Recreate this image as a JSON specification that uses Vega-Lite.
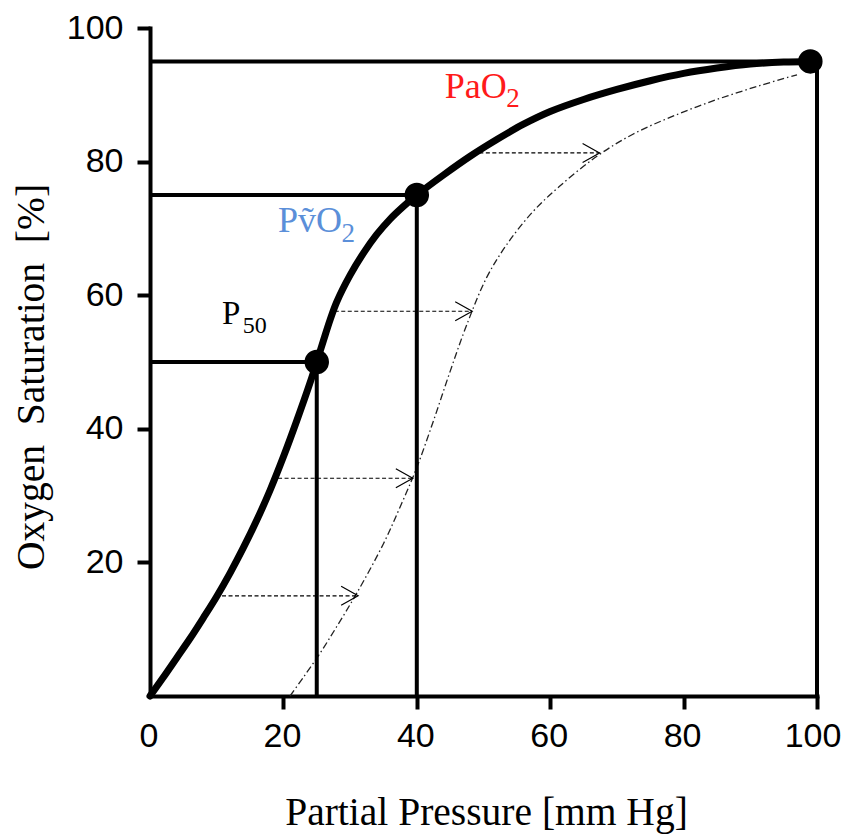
{
  "$schema": "https://vega.github.io/schema/vega-lite/v6.json",
  "autosize": {"type": "none"},
  "width": 667,
  "height": 668,
  "padding": {"left": 150, "top": 28, "right": 27, "bottom": 138},
  "background": "white",
  "config": {
    "view": {"stroke": null},
    "axis": {
      "grid": false,
      "domainColor": "black",
      "domainWidth": 4,
      "domainCap": "square",
      "tickColor": "black",
      "tickWidth": 4,
      "tickSize": 13,
      "labelFont": "Liberation Sans",
      "labelFontSize": 34,
      "labelColor": "black",
      "titleFont": "Liberation Serif",
      "titleFontSize": 39.5,
      "titleFontWeight": "normal",
      "titleColor": "black",
      "labelFlush": false,
      "labelOverlap": false
    }
  },
  "datasets": {
    "curve": [
      {"x": 0, "y": 0}, {"x": 2, "y": 2.8}, {"x": 4, "y": 5.7}, {"x": 6, "y": 8.6}, {"x": 8, "y": 11.7},
      {"x": 10, "y": 14.9}, {"x": 12, "y": 18.4}, {"x": 14, "y": 22.2}, {"x": 16, "y": 26.3}, {"x": 18, "y": 30.8},
      {"x": 20, "y": 35.8}, {"x": 22, "y": 41.2}, {"x": 24, "y": 46.9}, {"x": 25, "y": 50}, {"x": 26, "y": 53.2},
      {"x": 27, "y": 56.3}, {"x": 28, "y": 59.0}, {"x": 30, "y": 63.0}, {"x": 32, "y": 66.3}, {"x": 34, "y": 69.1},
      {"x": 36, "y": 71.4}, {"x": 38, "y": 73.3}, {"x": 40, "y": 75}, {"x": 44, "y": 78}, {"x": 48, "y": 80.8},
      {"x": 52, "y": 83.3}, {"x": 56, "y": 85.6}, {"x": 60, "y": 87.5}, {"x": 65, "y": 89.3}, {"x": 70, "y": 90.8},
      {"x": 75, "y": 92.1}, {"x": 80, "y": 93.2}, {"x": 85, "y": 94}, {"x": 90, "y": 94.6}, {"x": 95, "y": 94.9},
      {"x": 99, "y": 95}
    ],
    "shifted": [
      {"x": 21, "y": 0}, {"x": 23, "y": 2.8}, {"x": 25.5, "y": 6.4}, {"x": 28, "y": 10.4}, {"x": 31, "y": 15.4},
      {"x": 35, "y": 22.8}, {"x": 37.5, "y": 28.3}, {"x": 40, "y": 34.2}, {"x": 42.5, "y": 41.2}, {"x": 45, "y": 48.6},
      {"x": 47.5, "y": 55.6}, {"x": 50.5, "y": 62.7}, {"x": 53.5, "y": 67.6}, {"x": 57.4, "y": 72.5}, {"x": 61.4, "y": 76.3},
      {"x": 67, "y": 80.8}, {"x": 72.4, "y": 84.1}, {"x": 78.4, "y": 86.8}, {"x": 85, "y": 89.3}, {"x": 91.5, "y": 91.4},
      {"x": 97, "y": 93}
    ],
    "refs": [
      {"x": 0, "y": 95, "x2": 100, "y2": 95},
      {"x": 0, "y": 75, "x2": 40, "y2": 75},
      {"x": 0, "y": 50, "x2": 25, "y2": 50},
      {"x": 25, "y": 0, "x2": 25, "y2": 50},
      {"x": 40, "y": 0, "x2": 40, "y2": 75},
      {"x": 100, "y": 0, "x2": 100, "y2": 95}
    ],
    "dots": [
      {"name": "P50", "x": 25, "y": 50},
      {"name": "PvO2", "x": 40, "y": 75},
      {"name": "PaO2", "x": 99, "y": 95}
    ],
    "arrows": [
      {"y": 15, "from": 10.8, "to": 31.2},
      {"y": 32.6, "from": 19.2, "to": 39.4},
      {"y": 57.6, "from": 27.7, "to": 48.3},
      {"y": 81.3, "from": 48.4, "to": 67.4}
    ],
    "labels": [
      {"label": "PaO2", "part": "main", "text": "PaO", "x": 44.2, "y": 89.5},
      {"label": "PaO2", "part": "sub", "text": "2", "x": 53.4, "y": 88.2},
      {"label": "PvO2", "part": "main", "text": "PṽO", "x": 19.2, "y": 69.5},
      {"label": "PvO2", "part": "sub", "text": "2", "x": 28.7, "y": 68.0},
      {"label": "P50", "part": "main", "text": "P", "x": 10.8, "y": 55.7},
      {"label": "P50", "part": "sub", "text": "50", "x": 13.9, "y": 54.3}
    ]
  },
  "layer": [
    {
      "data": {"name": "shifted"},
      "mark": {"type": "line", "interpolate": "catmull-rom", "stroke": "#222222", "strokeWidth": 1.3, "strokeDash": [7, 3, 1.5, 3]},
      "encoding": {
        "x": {"field": "x", "type": "quantitative", "scale": {"domain": [0, 100], "nice": false},
          "axis": {"title": "Partial Pressure [mm Hg]", "values": [0, 20, 40, 60, 80, 100], "labelPadding": 10,
            "titleBaseline": "alphabetic", "titleY": 128, "titleX": 336,
            "labelOffset": {"condition": {"test": "datum.value === 100", "value": -4.5}, "value": -1.5},
            "tickOpacity": {"condition": {"test": "datum.value === 0", "value": 0}, "value": 1}}},
        "y": {"field": "y", "type": "quantitative", "scale": {"domain": [0, 100], "nice": false},
          "axis": {"title": "Oxygen\u2002Saturation\u2002[%]", "values": [20, 40, 60, 80, 100], "labelPadding": 14,
            "titleBaseline": "alphabetic", "titleX": -107, "titleY": 348.5, "titleAngle": -90}}
      }
    },
    {
      "data": {"name": "arrows"},
      "mark": {"type": "rule", "stroke": "black", "strokeWidth": 1.2, "strokeDash": [4, 2.5]},
      "encoding": {
        "x": {"field": "from", "type": "quantitative"},
        "x2": {"field": "to"},
        "y": {"field": "y", "type": "quantitative"}
      }
    },
    {
      "data": {"name": "arrows"},
      "mark": {"type": "point", "shape": "M-1,-0.56L0,0L-1,0.56", "filled": false, "stroke": "black", "strokeWidth": 1.2, "size": 1150, "opacity": 1},
      "encoding": {
        "x": {"field": "to", "type": "quantitative"},
        "y": {"field": "y", "type": "quantitative"}
      }
    },
    {
      "data": {"name": "refs"},
      "mark": {"type": "rule", "stroke": "black", "strokeWidth": 4},
      "encoding": {
        "x": {"field": "x", "type": "quantitative"},
        "x2": {"field": "x2"},
        "y": {"field": "y", "type": "quantitative"},
        "y2": {"field": "y2"}
      }
    },
    {
      "data": {"name": "curve"},
      "mark": {"type": "line", "interpolate": "catmull-rom", "stroke": "black", "strokeWidth": 7, "strokeCap": "round", "strokeJoin": "round"},
      "encoding": {
        "x": {"field": "x", "type": "quantitative"},
        "y": {"field": "y", "type": "quantitative"}
      }
    },
    {
      "data": {"name": "dots"},
      "mark": {"type": "point", "filled": true, "color": "black", "size": 600, "opacity": 1},
      "encoding": {
        "x": {"field": "x", "type": "quantitative"},
        "y": {"field": "y", "type": "quantitative"}
      }
    },
    {
      "data": {"name": "labels"},
      "transform": [{"filter": "datum.part === 'main' && datum.label !== 'P50'"}],
      "mark": {"type": "text", "font": "Liberation Serif", "fontSize": 36, "align": "left", "baseline": "alphabetic"},
      "encoding": {
        "x": {"field": "x", "type": "quantitative"},
        "y": {"field": "y", "type": "quantitative"},
        "text": {"field": "text"},
        "color": {"field": "label", "type": "nominal", "legend": null,
          "scale": {"domain": ["PaO2", "PvO2", "P50"], "range": ["#ff1a1a", "#5b8fd9", "#000000"]}}
      }
    },
    {
      "data": {"name": "labels"},
      "transform": [{"filter": "datum.part === 'sub' && datum.label !== 'P50'"}],
      "mark": {"type": "text", "font": "Liberation Serif", "fontSize": 27, "align": "left", "baseline": "alphabetic"},
      "encoding": {
        "x": {"field": "x", "type": "quantitative"},
        "y": {"field": "y", "type": "quantitative"},
        "text": {"field": "text"},
        "color": {"field": "label", "type": "nominal", "legend": null}
      }
    },
    {
      "data": {"name": "labels"},
      "transform": [{"filter": "datum.part === 'main' && datum.label === 'P50'"}],
      "mark": {"type": "text", "font": "Liberation Serif", "fontSize": 33, "align": "left", "baseline": "alphabetic"},
      "encoding": {
        "x": {"field": "x", "type": "quantitative"},
        "y": {"field": "y", "type": "quantitative"},
        "text": {"field": "text"},
        "color": {"field": "label", "type": "nominal", "legend": null}
      }
    },
    {
      "data": {"name": "labels"},
      "transform": [{"filter": "datum.part === 'sub' && datum.label === 'P50'"}],
      "mark": {"type": "text", "font": "Liberation Serif", "fontSize": 24, "align": "left", "baseline": "alphabetic"},
      "encoding": {
        "x": {"field": "x", "type": "quantitative"},
        "y": {"field": "y", "type": "quantitative"},
        "text": {"field": "text"},
        "color": {"field": "label", "type": "nominal", "legend": null}
      }
    }
  ]
}
